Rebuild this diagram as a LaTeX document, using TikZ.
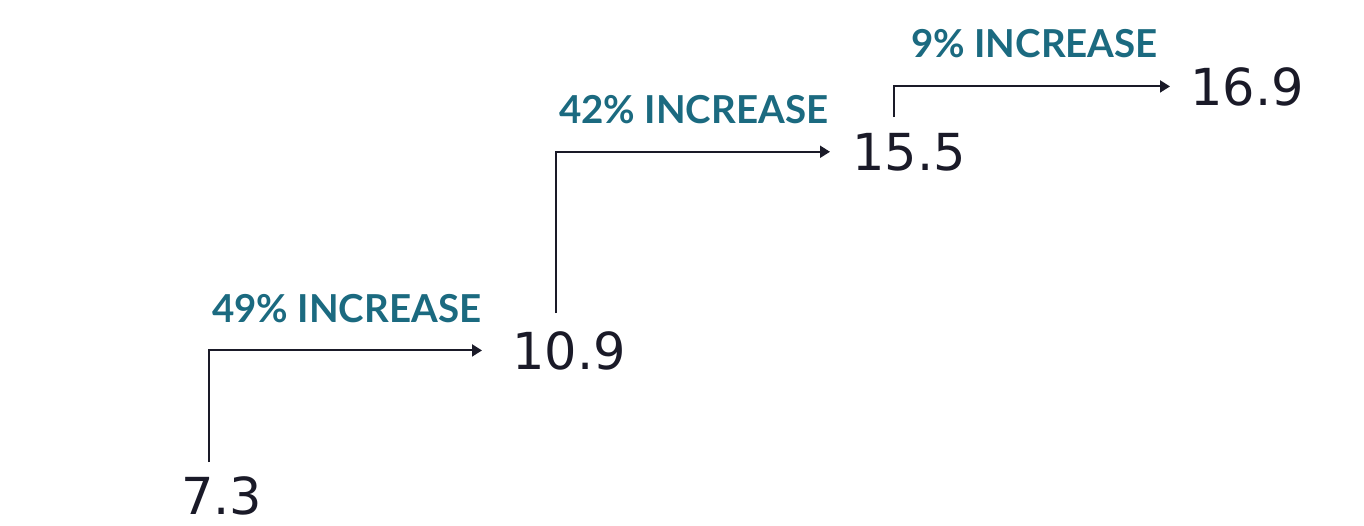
\documentclass[tikz,border=0pt]{standalone}
\usepackage{fontspec}
\usetikzlibrary{arrows.meta}
\newfontfamily\numfont{DejaVu Sans}
\newfontfamily\labfont{Lato}
\definecolor{numc}{HTML}{1A1A28}
\definecolor{labc}{HTML}{1B6A80}
\tikzset{
  num/.style={anchor=base west, inner sep=0pt, font=\numfont\fontsize{51}{51}\selectfont, text=numc},
  lab/.style={anchor=base west, inner sep=0pt, font=\labfont\bfseries\fontsize{38.5}{38.5}\selectfont, text=labc},
  arr/.style={draw=numc, line width=2pt, -{Triangle[length=10pt,width=12pt]}, shorten >=30pt}
}
\begin{document}
\begin{tikzpicture}[x=1pt,y=-1pt]
\useasboundingbox (0,0) rectangle (1364,525);
\node[num] (n1) at (181,514) {7.3};
\node[num] (n2) at (512,369) {10.9};
\node[num] (n3) at (852,170) {15.5};
\node[num] (n4) at (1190,105) {16.9};
\node[lab] (l1) at (212,322) {49\% INCREASE};
\node[lab] (l2) at (559,123) {42\% INCREASE};
\node[lab] (l3) at (911,57) {9\% INCREASE};
\coordinate (s1) at (209,462);
\coordinate (s2) at (556,313);
\coordinate (s3) at (894,117);
\draw[arr] (s1) |- (n2.west);
\draw[arr, shorten >=22pt] (s2) |- (n3.west);
\draw[arr, shorten >=20pt] (s3) |- (n4.west);
\end{tikzpicture}
\end{document}
